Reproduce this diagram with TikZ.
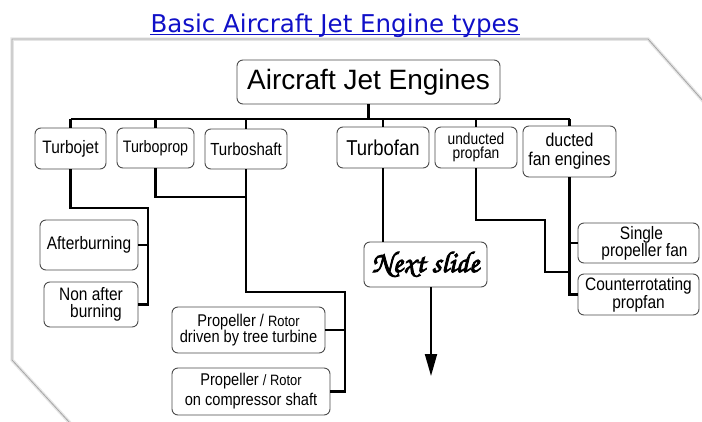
\documentclass[tikz,border=0pt]{standalone}
\usepackage[T1,TU]{fontenc}
\usepackage{fontspec}
\usetikzlibrary{arrows.meta}
\newfontfamily\nar{Liberation Sans}[FakeStretch=0.86]
\newfontfamily\reg{Liberation Sans}
\newfontfamily\ttl{DejaVu Sans}
\newcommand{\scriptfnt}{\fontencoding{T1}\fontfamily{pzc}\fontseries{mb}\fontshape{it}\fontsize{30}{32}\selectfont}
\newcommand{\heavy}[1]{\special{pdf:literal direct 2 Tr 0.9 w}#1\special{pdf:literal direct 0 Tr}}
\definecolor{titleblue}{RGB}{16,16,200}
\tikzset{
  box/.style={draw=black!70, line width=0.9pt, rounded corners=6pt, fill=white,
              inner sep=0pt, align=center, font=\nar, text=black},
  conn/.style={line width=2.2pt, black},
  paper/.style={line width=0.8pt, draw=black!35},
  papershadow/.style={line width=3.5pt, draw=black!10},
}
\begin{document}
\begin{tikzpicture}[x=1pt,y=-1pt]
\useasboundingbox (0,0) rectangle (702,421);
\fill[white] (0,0) rectangle (702,421);
% paper
\draw[papershadow] (70,423) -- (12,360) -- (12,39) -- (648,39) -- (704,102);
\draw[paper] (70,423) -- (12,360) -- (12,39) -- (648,39) -- (704,102);
% title
\node[anchor=base, inner sep=0pt, text=titleblue, font=\ttl\fontsize{24.5}{28}\selectfont] (title) at (335,32) {Basic Aircraft Jet Engine types};
\draw[titleblue, line width=1.3pt] ([yshift=-2.5pt]title.base west) -- ([yshift=-2.5pt]title.base east);

% top node
\node[box, font=\reg\fontsize{28}{30}\selectfont, minimum width=263pt, minimum height=44pt] (main) at (368.5,82) {Aircraft Jet Engines};

% second row
\node[box, minimum width=71pt, minimum height=41pt, font=\nar\fontsize{18}{18}\selectfont] (tj) at (70.5,148.5) {Turbojet};
\node[box, minimum width=77pt, minimum height=40pt, font=\nar\fontsize{16.6}{18}\selectfont] (tp) at (155.5,148) {Turboprop};
\node[box, minimum width=82pt, minimum height=40pt, font=\nar\fontsize{17.5}{18}\selectfont] (ts) at (246,149) {Turboshaft};
\node[box, minimum width=92pt, minimum height=41pt, font=\nar\fontsize{21.5}{22}\selectfont] (tf) at (383,147.5) {Turbofan};
\node[box, minimum width=82pt, minimum height=41pt, font=\nar\fontsize{16}{14.5}\selectfont] (up) at (476,147.5) {unducted\\propfan};
\node[box, minimum width=93pt, minimum height=51pt, font=\nar\fontsize{18.5}{19}\selectfont] (df) at (569.5,151.5) {ducted\\fan engines};

% lower boxes
\node[box, minimum width=98pt, minimum height=50pt, font=\nar\fontsize{18}{18}\selectfont] (ab) at (89,245) {Afterburning};
\node[box, minimum width=94pt, minimum height=45pt, font=\nar\fontsize{18}{17}\selectfont] (na) at (91,304.5) {Non after\\\hspace*{10pt}burning};
\node[box, minimum width=153pt, minimum height=46pt, font=\nar\fontsize{17}{16.5}\selectfont] (pr1) at (248.5,330) {Propeller / {\fontsize{15}{16.5}\selectfont Rotor}\\driven by tree turbine};
\node[box, minimum width=158pt, minimum height=47pt, font=\nar\fontsize{17}{20}\selectfont] (pr2) at (251,391.5) {Propeller {\fontsize{15}{20}\selectfont/ Rotor}\\on compressor shaft};
\node[box, minimum width=123pt, minimum height=45pt, font=\scriptfnt] (ns) at (425.5,264.5) {\heavy{Next slide}};
\node[box, minimum width=121pt, minimum height=40pt, font=\nar\fontsize{18}{17}\selectfont] (sp) at (638.5,243) {\hspace*{6pt}Single\\\hspace*{12pt}propeller fan};
\node[box, minimum width=121pt, minimum height=41pt, font=\nar\fontsize{18}{16}\selectfont] (cr) at (638.5,294.5) {Counterrotating\\propfan};

% helper coordinates
\coordinate (bus) at (0,119);
\coordinate (tjc) at (148,208);
\coordinate (tpy) at (0,197);
\coordinate (tsc) at (345,292);
\coordinate (upc) at (545,220);
\coordinate (upy) at (0,272);
\coordinate (arrowend) at (431,376);

% bus
\draw[conn] (tj.north |- bus) -- (df.north |- bus);
\draw[conn] (main.south) -- (main.south |- bus);
\foreach \n in {tj,tp,ts,tf,up,df}{
  \draw[conn] (\n.north) -- (\n.north |- bus);
}
% turbojet branch
\draw[conn] (tj.south) |- (tjc) -- (tjc |- na.east) -- (na.east);
\draw[conn] (ab.east) -- (ab.east -| tjc);
% turboprop to turboshaft
\draw[conn] (tp.south) |- (ts.south |- tpy);
% turboshaft branch
\draw[conn] (ts.south) |- (tsc) -- (tsc |- pr2.east) -- (pr2.east);
\draw[conn] (pr1.east) -- (pr1.east -| tsc);
% turbofan
\draw[conn] (tf.south) -- (tf.south |- ns.north);
\draw[line width=1.8pt, -{Triangle[length=22pt,width=12pt]}] (ns.south -| arrowend) -- (arrowend);
% unducted
\draw[conn] (up.south) |- (upc) |- (df.south |- upy);
% ducted
\draw[conn] (df.south) -- (df.south |- cr.west) -- (cr.west);
\draw[conn] (sp.west) -- (sp.west -| df.south);
\end{tikzpicture}
\end{document}
